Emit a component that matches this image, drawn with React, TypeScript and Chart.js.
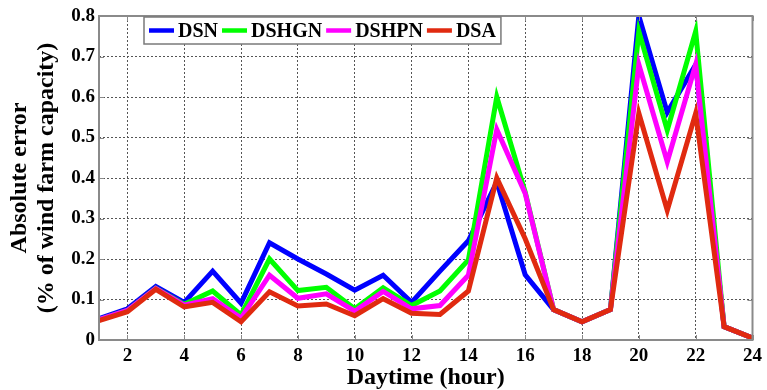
import React, { useEffect, useRef } from "react";
import { Chart, registerables } from "chart.js";

Chart.register(...registerables);

const hours = [1, 2, 3, 4, 5, 6, 7, 8, 9, 10, 11, 12, 13, 14, 15, 16, 17, 18, 19, 20, 21, 22, 23, 24];
const xTickValues = [2, 4, 6, 8, 10, 12, 14, 16, 18, 20, 22, 24];
const seriesNames = ["DSN", "DSHGN", "DSHPN", "DSA"];
const seriesColors = ["#0000ff", "#00ff00", "#ff00ff", "#e02a10"];

const dsn = [0.053, 0.077, 0.132, 0.093, 0.170, 0.091, 0.240, 0.200, 0.163, 0.123, 0.160, 0.093, 0.170, 0.245, 0.390, 0.161, 0.075, 0.045, 0.075, 0.800, 0.562, 0.680, 0.033, 0.005];
const dshgn = [0.050, 0.073, 0.128, 0.088, 0.121, 0.062, 0.200, 0.122, 0.130, 0.077, 0.129, 0.085, 0.121, 0.198, 0.600, 0.365, 0.075, 0.045, 0.075, 0.762, 0.518, 0.762, 0.033, 0.005];
const dshpn = [0.050, 0.073, 0.127, 0.086, 0.102, 0.054, 0.160, 0.103, 0.114, 0.071, 0.120, 0.077, 0.085, 0.160, 0.520, 0.362, 0.075, 0.045, 0.075, 0.680, 0.440, 0.680, 0.033, 0.005];
const dsa = [0.048, 0.070, 0.125, 0.082, 0.093, 0.045, 0.119, 0.084, 0.089, 0.060, 0.102, 0.066, 0.063, 0.121, 0.400, 0.250, 0.075, 0.045, 0.075, 0.560, 0.320, 0.560, 0.033, 0.005];
const seriesValues = [dsn, dshgn, dshpn, dsa];

const xTitle = "Daytime (hour)";
const yTitle = ["Absolute error", "(% of wind farm capacity)"];

const FONT = "'Liberation Serif', 'Times New Roman', serif";
const FRAME = "#8a8a8a";

const framePlugin = {
  id: "frameAndLegend",
  afterDraw(chart: any) {
    const { ctx, chartArea } = chart;
    const { left, right, top, bottom } = chartArea;
    ctx.save();
    // inward tick marks
    ctx.strokeStyle = FRAME;
    ctx.lineWidth = 1;
    const xs = chart.scales.x;
    const ys = chart.scales.y;
    xs.ticks.forEach((t: any) => {
      const px = Math.round(xs.getPixelForValue(t.value)) + 0.5;
      ctx.beginPath();
      ctx.moveTo(px, bottom);
      ctx.lineTo(px, bottom - 5);
      ctx.moveTo(px, top);
      ctx.lineTo(px, top + 5);
      ctx.stroke();
    });
    ys.ticks.forEach((t: any) => {
      const py = Math.round(ys.getPixelForValue(t.value)) + 0.5;
      ctx.beginPath();
      ctx.moveTo(left, py);
      ctx.lineTo(left + 5, py);
      ctx.moveTo(right, py);
      ctx.lineTo(right - 5, py);
      ctx.stroke();
    });
    // frame
    ctx.lineWidth = 2;
    ctx.strokeStyle = FRAME;
    ctx.strokeRect(left, top, right - left, bottom - top);

    // legend box inside the plot
    ctx.font = "bold 20px " + FONT;
    const boxLeft = left + 45;
    const boxTop = top + 1;
    const boxH = 27;
    const lineLen = 25;
    const gap = 4;
    let w = 5;
    const ds = chart.data.datasets;
    ds.forEach((d: any) => {
      w += lineLen + gap + ctx.measureText(d.label).width + gap;
    });
    w += 1;
    ctx.fillStyle = "#ffffff";
    ctx.fillRect(boxLeft, boxTop, w, boxH);
    ctx.lineWidth = 1.5;
    ctx.strokeStyle = "#7a7a7a";
    ctx.strokeRect(boxLeft, boxTop, w, boxH);
    let x = boxLeft + 5;
    const cy = boxTop + boxH / 2;
    ds.forEach((d: any) => {
      ctx.strokeStyle = d.borderColor;
      ctx.lineWidth = 4.5;
      ctx.beginPath();
      ctx.moveTo(x, cy);
      ctx.lineTo(x + lineLen, cy);
      ctx.stroke();
      x += lineLen + gap;
      ctx.fillStyle = "#000000";
      ctx.textBaseline = "middle";
      ctx.textAlign = "left";
      ctx.fillText(d.label, x, cy + 1);
      x += ctx.measureText(d.label).width + gap;
    });
    ctx.restore();
  },
};

export default function App() {
  const canvasRef = useRef<HTMLCanvasElement | null>(null);

  useEffect(() => {
    const canvas = canvasRef.current;
    if (!canvas) return;
    const datasets = seriesNames.map((name, i) => ({
      label: name,
      data: hours.map((h, j) => ({ x: h, y: seriesValues[i][j] })),
      borderColor: seriesColors[i],
      backgroundColor: seriesColors[i],
      borderWidth: 5,
      pointRadius: 0,
      tension: 0,
      fill: false,
      borderJoinStyle: "miter" as const,
      order: seriesNames.length - i,
    }));

    const chart = new Chart(canvas, {
      type: "line",
      data: { datasets },
      options: {
        animation: false,
        responsive: false,
        devicePixelRatio: 1,
        layout: { padding: { left: 0, right: 11, top: 16, bottom: 0 } },
        plugins: {
          legend: { display: false },
          tooltip: { enabled: false },
        },
        scales: {
          x: {
            type: "linear",
            min: 1,
            max: 24,
            afterBuildTicks: (s: any) => {
              s.ticks = xTickValues.map((v) => ({ value: v }));
            },
            afterFit: (s: any) => {
              s.height = 50;
            },
            grid: {
              color: "#555555",
              lineWidth: 1,
              drawTicks: false,
            },
            border: { display: false, dash: [2, 2] },
            ticks: {
              color: "#000000",
              padding: 5,
              maxRotation: 0,
              autoSkip: false,
              font: { family: FONT, size: 19, weight: "bold" },
            },
            title: {
              display: true,
              text: xTitle,
              color: "#000000",
              padding: { top: 0, bottom: 0 },
              font: { family: FONT, size: 24, weight: "bold", lineHeight: 1 },
            },
          },
          y: {
            type: "linear",
            min: 0,
            max: 0.8,
            afterFit: (s: any) => {
              s.width = 99;
            },
            grid: {
              color: "#555555",
              lineWidth: 1,
              drawTicks: false,
            },
            border: { display: false, dash: [2, 2] },
            ticks: {
              stepSize: 0.1,
              color: "#000000",
              padding: 4,
              font: { family: FONT, size: 19, weight: "bold" },
            },
            title: {
              display: true,
              text: yTitle,
              color: "#000000",
              padding: { top: 6, bottom: 0 },
              font: { family: FONT, size: 24, weight: "bold", lineHeight: 1.125 },
            },
          },
        },
      },
      plugins: [framePlugin],
    });
    return () => chart.destroy();
  }, []);

  return (
    <div style={{ position: "fixed", left: 0, top: 0, width: 767, height: 390, background: "#ffffff" }}>
      <canvas ref={canvasRef} width={767} height={390} style={{ width: 767, height: 390, display: "block" }} />
    </div>
  );
}
